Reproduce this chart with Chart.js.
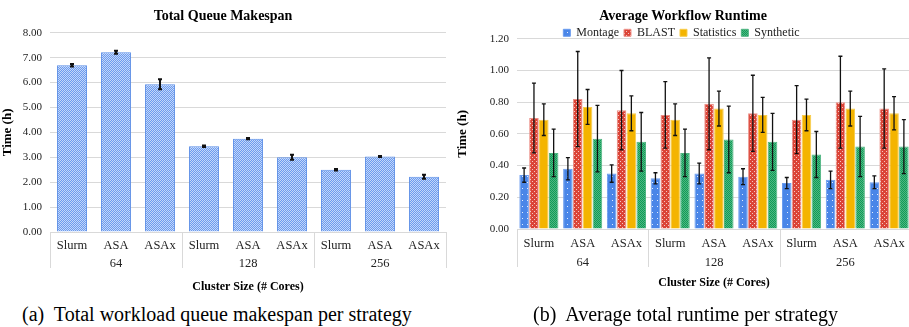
<!DOCTYPE html>
<html>
<head>
<meta charset="utf-8">
<script src="https://cdn.jsdelivr.net/npm/chart.js@4.4.1/dist/chart.umd.min.js"></script>
<style>
  body { margin: 0; width: 909px; height: 327px; overflow: hidden; background: #fff; position: relative; }
  #left { position: absolute; left: 0; top: 0; width: 492px; height: 294px; }
  #right { position: absolute; left: 455px; top: 0; width: 480px; height: 290px; }
  .caption { position: absolute; top: 303px; font-family: "Liberation Serif", serif; font-size: 20px; color: #000; white-space: nowrap; }
  #capA { left: 22px; }
  #capB { left: 533px; }
</style>
</head>
<body>
<canvas id="left" width="492" height="294"></canvas>
<canvas id="right" width="480" height="290"></canvas>
<div class="caption" id="capA">(a)&nbsp; Total workload queue makespan per strategy</div>
<div class="caption" id="capB">(b)&nbsp; Average total runtime per strategy</div>
<script>
const strategies = ['Slurm', 'ASA', 'ASAx', 'Slurm', 'ASA', 'ASAx', 'Slurm', 'ASA', 'ASAx'];
const clusterSizes = ['64', '128', '256'];

// makespan (h) and its error
const makespan = [6.70, 7.22, 5.93, 3.44, 3.75, 3.00, 2.50, 3.03, 2.22];
const makespanErr = [0.05, 0.06, 0.20, 0.03, 0.03, 0.10, 0.03, 0.02, 0.08];

// average runtime (h) per workflow
const montage = [0.34, 0.38, 0.35, 0.32, 0.35, 0.33, 0.29, 0.31, 0.295];
const montageErr = [0.045, 0.07, 0.055, 0.035, 0.065, 0.05, 0.035, 0.055, 0.04];
const blast = [0.70, 0.82, 0.75, 0.72, 0.79, 0.73, 0.69, 0.80, 0.76];
const blastErr = [0.22, 0.30, 0.25, 0.21, 0.29, 0.24, 0.215, 0.29, 0.25];
const statistics = [0.69, 0.77, 0.73, 0.69, 0.76, 0.72, 0.72, 0.76, 0.73];
const statisticsErr = [0.10, 0.11, 0.11, 0.10, 0.11, 0.11, 0.10, 0.11, 0.105];
const synthetic = [0.48, 0.57, 0.55, 0.48, 0.565, 0.55, 0.47, 0.52, 0.52];
const syntheticErr = [0.15, 0.21, 0.185, 0.15, 0.21, 0.18, 0.145, 0.19, 0.17];

const serif = '"Liberation Serif", "Times New Roman", serif';

function makePattern(bg, fg, size, dots) {
    const c = document.createElement('canvas');
    c.width = size[0];
    c.height = size[1];
    const g = c.getContext('2d');
    g.fillStyle = bg;
    g.fillRect(0, 0, size[0], size[1]);
    g.fillStyle = fg;
    dots.forEach(d => g.fillRect(d[0], d[1], 1, 1));
    return g.createPattern(c, 'repeat');
}

const makespanFill = makePattern('#6b9bef', '#c4d7f9', [2, 2], [[0, 0], [1, 1]]);
const montageFill = makePattern('#4a86e8', 'rgba(255,255,255,0.85)', [5, 6], [[2, 2]]);
const blastFill = makePattern('#db4437', 'rgba(255,255,255,0.7)', [4, 4], [[1, 1], [3, 3]]);
const syntheticFill = makePattern('#0f9d58', '#4fb581', [2, 2], [[0, 0], [1, 1]]);

// error bars and group separators
const extras = {
    id: 'extras',
    afterInit(chart) {
        // keep the legend snug between the title and the plot
        const lg = chart.legend;
        if (!lg || !chart.options.legendTrim) return;
        const fit = lg.fit.bind(lg);
        lg.fit = function () {
            fit();
            this.height -= chart.options.legendTrim;
        };
    },
    afterDatasetsDraw(chart) {
        const ctx = chart.ctx;
        const y = chart.scales.y;
        ctx.save();
        chart.data.datasets.forEach((ds, i) => {
            const meta = chart.getDatasetMeta(i);
            if (!ds.err || meta.hidden) return;
            ctx.strokeStyle = '#111';
            ctx.lineWidth = chart.options.errWidth || 1.5;
            meta.data.forEach((bar, j) => {
                const top = y.getPixelForValue(ds.data[j] + ds.err[j]);
                const bot = y.getPixelForValue(ds.data[j] - ds.err[j]);
                const cap = 2;
                ctx.beginPath();
                ctx.moveTo(bar.x, top);
                ctx.lineTo(bar.x, bot);
                ctx.moveTo(bar.x - cap, top);
                ctx.lineTo(bar.x + cap, top);
                ctx.moveTo(bar.x - cap, bot);
                ctx.lineTo(bar.x + cap, bot);
                ctx.stroke();
            });
        });
        ctx.restore();
    },
    afterDraw(chart) {
        const ctx = chart.ctx;
        const x = chart.scales.x;
        const x2 = chart.scales.x2;
        const half = (x.getPixelForValue(1) - x.getPixelForValue(0)) / 2;
        ctx.save();
        ctx.strokeStyle = '#d9d9d9';
        ctx.lineWidth = 1;
        [0, 3, 6, 9].forEach(i => {
            const px = Math.round(x.getPixelForValue(i) - half) + 0.5;
            ctx.beginPath();
            ctx.moveTo(px, chart.chartArea.bottom);
            ctx.lineTo(px, x2.top + 9);
            ctx.stroke();
        });
        ctx.restore();
    }
};

// pads: [category tick padding, group tick padding, axis title top padding]
function baseOptions(title, yMax, yStep, yWidth, padRight, showLegend, pads) {
    return {
        responsive: false,
        animation: false,
        layout: { padding: { right: padRight, top: 0, bottom: 0 } },
        plugins: {
            title: {
                display: true, text: title, color: '#000',
                font: { family: serif, size: 14, weight: 'bold' },
                padding: showLegend ? { top: 8, bottom: 0 } : { top: 8, bottom: 8 }
            },
            legend: {
                display: showLegend,
                labels: {
                    color: '#222', boxWidth: 7, boxHeight: 7, padding: 2,
                    font: { family: serif, size: 12 },
                    generateLabels(chart) {
                        const items = Chart.defaults.plugins.legend.labels.generateLabels(chart);
                        items.forEach(it => { it.text = it.text + ' '; });
                        return items;
                    }
                }
            },
            tooltip: { enabled: false }
        },
        scales: {
            x: {
                grid: { display: false, drawTicks: false },
                border: { display: false },
                ticks: { color: '#222', padding: pads[0], font: { family: serif, size: 12.5 } }
            },
            x2: {
                type: 'category',
                position: 'bottom',
                labels: clusterSizes,
                grid: { display: false, drawTicks: false },
                border: { display: false },
                ticks: { color: '#222', padding: pads[1], font: { family: serif, size: 12.5 } },
                title: {
                    display: true, text: 'Cluster Size (# Cores)', color: '#000',
                    font: { family: serif, size: 12, weight: 'bold' },
                    padding: { top: pads[2], bottom: 0 }
                }
            },
            y: {
                min: 0, max: yMax,
                grid: { color: '#d9d9d9', drawTicks: false },
                border: { display: false },
                afterFit(scale) { scale.width = yWidth; },
                ticks: {
                    stepSize: yStep, color: '#222', padding: 8,
                    font: { family: serif, size: 11 },
                    callback: v => Number(v).toFixed(2)
                },
                title: {
                    display: true, text: 'Time (h)', color: '#000',
                    font: { family: serif, size: 13, weight: 'bold' },
                    padding: { top: 0, bottom: 4 }
                }
            }
        }
    };
}

const leftOpts = baseOptions('Total Queue Makespan', 8, 1, 50, 46, false, [6, -3, 11.6]);
leftOpts.errWidth = 2;
new Chart(document.getElementById('left'), {
    type: 'bar',
    data: {
        labels: strategies,
        datasets: [{
            label: 'Makespan',
            data: makespan,
            err: makespanErr,
            backgroundColor: makespanFill,
            borderColor: '#5b8ee6',
            borderWidth: 1,
            barPercentage: 0.68,
            categoryPercentage: 1
        }]
    },
    options: leftOpts,
    plugins: [extras]
});

function runtimeSet(label, data, err, fill, edge) {
    return {
        label: label, data: data, err: err,
        backgroundColor: fill, borderColor: edge, borderWidth: 1,
        barPercentage: 0.97, categoryPercentage: 0.9
    };
}

const rightOpts = baseOptions('Average Workflow Runtime', 1.2, 0.2, 62, 24, true, [7, -3, 8.6]);
rightOpts.errWidth = 1.3;
rightOpts.legendTrim = 10;
new Chart(document.getElementById('right'), {
    type: 'bar',
    data: {
        labels: strategies,
        datasets: [
            runtimeSet('Montage', montage, montageErr, montageFill, '#6a9cef'),
            runtimeSet('BLAST', blast, blastErr, blastFill, '#ec8f87'),
            runtimeSet('Statistics', statistics, statisticsErr, '#f4b400', '#f8cc4a'),
            runtimeSet('Synthetic', synthetic, syntheticErr, syntheticFill, '#4fb581')
        ]
    },
    options: rightOpts,
    plugins: [extras]
});
</script>
</body>
</html>
